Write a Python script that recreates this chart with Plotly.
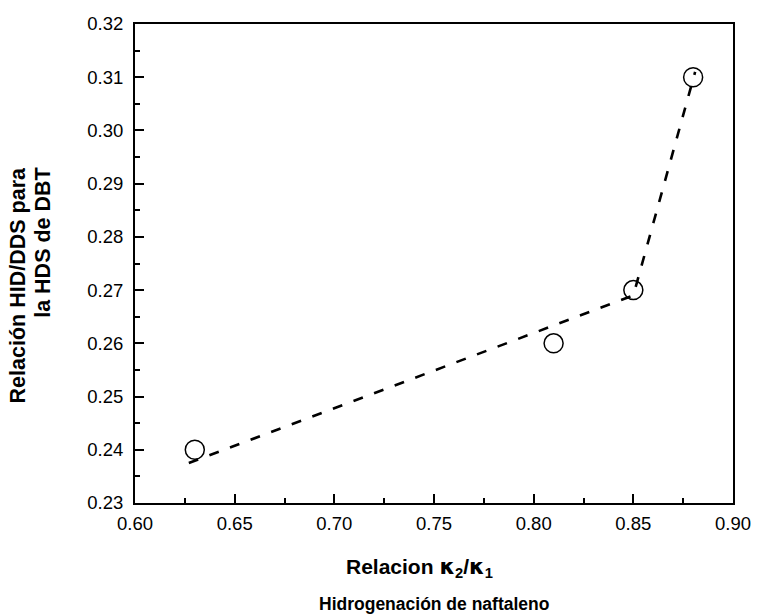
import plotly.graph_objects as go

# Measured ratios
k_ratio = [0.63, 0.81, 0.85, 0.88]
hid_dds = [0.24, 0.26, 0.27, 0.31]

# Trend line (two linear branches)
trend_x = [0.627, 0.85, 0.881]
trend_y = [0.2375, 0.269, 0.311]

x_ticks = [0.60, 0.65, 0.70, 0.75, 0.80, 0.85, 0.90]
y_ticks = [0.23, 0.24, 0.25, 0.26, 0.27, 0.28, 0.29, 0.30, 0.31, 0.32]

FONT = "Liberation Sans, Arial, sans-serif"

fig = go.Figure()
fig.add_trace(go.Scatter(
    x=k_ratio, y=hid_dds, mode="markers",
    marker=dict(symbol="circle-open", size=19, color="black", line=dict(width=1.5)),
    showlegend=False,
))
fig.add_trace(go.Scatter(
    x=trend_x, y=trend_y, mode="lines",
    line=dict(color="black", width=2.6, dash="10px,12px"),
    showlegend=False,
))

axis_common = dict(
    showline=True, linecolor="black", linewidth=2, mirror=True,
    ticks="inside", ticklen=9, tickwidth=2, tickcolor="black",
    showgrid=False, zeroline=False,
    tickfont=dict(family=FONT, size=18.5, color="black"),
)

fig.update_xaxes(
    range=[0.60, 0.90], tickvals=x_ticks,
    ticktext=[f"{v:.2f}" for v in x_ticks],
    ticklabelstandoff=3,
    minor=dict(ticks="inside", ticklen=5, tickwidth=2, tickcolor="black", dtick=0.025, tick0=0.6),
    **axis_common,
)
fig.update_yaxes(
    range=[0.23, 0.32], tickvals=y_ticks,
    ticktext=[f"{v:.2f}" for v in y_ticks],
    ticklabelstandoff=6,
    minor=dict(ticks="inside", ticklen=5, tickwidth=2, tickcolor="black", dtick=0.005, tick0=0.23),
    **axis_common,
)

kappa = '<span style="font-family:DejaVu Sans;font-size:22px">κ</span>'
annotations = [
    dict(text=f"<b>Relacion {kappa}<sub>2</sub>/{kappa}<sub>1</sub></b>", x=0.475, y=-0.135,
         xref="paper", yref="paper", xanchor="center", yanchor="middle",
         showarrow=False, font=dict(family=FONT, size=21, color="black")),
    dict(text="<b>Hidrogenación de naftaleno</b>", x=0.5, y=-0.21,
         xref="paper", yref="paper", xanchor="center", yanchor="middle",
         showarrow=False, font=dict(family=FONT, size=17.5, color="black")),
    dict(text="<b>Relación HID/DDS para</b>", x=-0.195, y=0.7056,
         xref="paper", yref="paper", xanchor="center", yanchor="top",
         textangle=-90, showarrow=False, font=dict(family=FONT, size=21.5, color="black")),
    dict(text="<b>la HDS de DBT</b>", x=-0.155, y=0.7056,
         xref="paper", yref="paper", xanchor="center", yanchor="top",
         textangle=-90, showarrow=False, font=dict(family=FONT, size=21.5, color="black")),
]

fig.update_layout(
    width=763, height=616,
    margin=dict(l=135, r=22, t=24, b=113),
    paper_bgcolor="white", plot_bgcolor="white",
    annotations=annotations,
)

fig.write_html("out.html")
